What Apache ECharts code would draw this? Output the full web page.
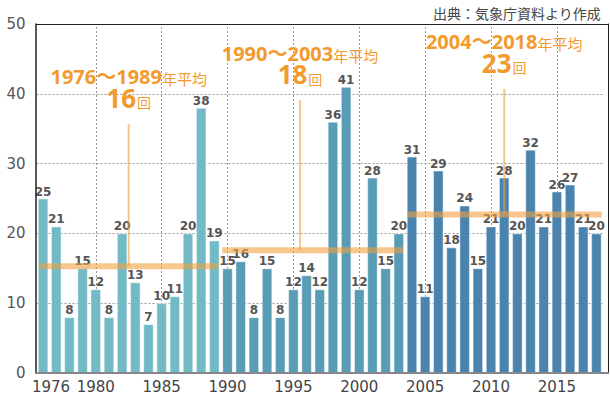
<!DOCTYPE html>
<html lang="ja">
<head>
<meta charset="UTF-8">
<title>台風の発生数</title>
<script src="https://cdn.jsdelivr.net/npm/echarts@6/dist/echarts.min.js"></script>
<style>
  html, body { margin: 0; padding: 0; background: #fff; }
  #main { width: 610px; height: 396px; }
</style>
</head>
<body>
<div id="main"></div>
<script>
// data
var years = [];
for (var y = 1976; y <= 2018; y++) years.push(String(y));
var counts = [25, 21, 8, 15, 12, 8, 20, 13, 7, 10, 11, 20, 38, 19,
              15, 16, 8, 15, 8, 12, 14, 12, 36, 41, 12, 28, 15, 20,
              31, 11, 29, 18, 24, 15, 21, 28, 20, 32, 21, 26, 27, 21, 20];
var labelYears = ['1976', '1980', '1985', '1990', '1995', '2000', '2005', '2010', '2015'];
var gridYears = ['1980', '1985', '1990', '1995', '2000', '2005', '2010', '2015'];
var yTicks = [0, 10, 20, 30, 40, 50];

// periods
var periodNames = ['1976～1989', '1990～2003', '2004～2018'];
var periodLastYear = [1989, 2003, 2018];
var periodAverage = ['16', '18', '23'];
var avgLevel = [15.3, 17.6, 22.7];      // height where the average band is drawn
var calloutTop = [35.7, 39.1, 40.7];    // top of the thin orange pointer

// layout of the annotations, in category index units
var bandSpan = [[-0.3, 13.3], [13.6, 27.3], [27.7, 42.4]];
var pointerX = [6.5, 19.5, 35];

var barColors = ['#72bac6', '#589cb6', '#4a84ae'];
var orange = '#f39a2e';
var band = 'rgba(240,160,64,0.6)';
var font = "'Noto Sans', 'Noto Sans CJK JP', sans-serif";
var axisFont = "'DejaVu Sans', sans-serif";

function groupOf(year) {
  for (var i = 0; i < periodLastYear.length; i++) {
    if (+year <= periodLastYear[i]) return i;
  }
  return periodLastYear.length - 1;
}

var barData = counts.map(function (v, i) {
  return { value: v, itemStyle: { color: barColors[groupOf(years[i])] } };
});

var series = [{
  type: 'bar',
  xAxisIndex: 0,
  yAxisIndex: 0,
  data: barData,
  barCategoryGap: '20%',
  z: 2,
  itemStyle: { borderColor: 'rgba(255,255,255,0.45)', borderWidth: 1 },
  label: {
    show: true,
    position: 'top',
    distance: 1,
    fontFamily: axisFont,
    fontSize: 12,
    fontWeight: 'bold',
    color: '#555'
  },
  markLine: {
    silent: true,
    symbol: 'none',
    z: 1,
    label: { show: false },
    lineStyle: { color: '#999', type: [2, 2], width: 1 },
    data: gridYears.map(function (y) { return { xAxis: y }; })
  }
}];

periodNames.forEach(function (name, i) {
  // average band
  series.push({
    type: 'line',
    xAxisIndex: 1,
    yAxisIndex: 0,
    symbol: 'none',
    silent: true,
    z: 4,
    lineStyle: { color: band, width: 6, cap: 'butt' },
    data: [[bandSpan[i][0], avgLevel[i]], [bandSpan[i][1], avgLevel[i]]]
  });
  // pointer with its callout text
  series.push({
    type: 'line',
    xAxisIndex: 1,
    yAxisIndex: 0,
    symbol: 'circle',
    symbolSize: 1,
    showSymbol: true,
    silent: true,
    z: 4,
    itemStyle: { color: 'transparent' },
    lineStyle: { color: band, width: 2 },
    data: [{
      value: [pointerX[i], calloutTop[i]],
      label: {
        show: true,
        position: 'top',
        distance: 12.5,
        align: 'center',
        formatter: '{a|' + name + '}{b|年平均}\n{c|' + periodAverage[i] + '}{d|回}',
        rich: {
          a: { fontFamily: font, fontSize: 20, fontWeight: 'bold', color: orange, lineHeight: 20, verticalAlign: 'bottom' },
          b: { fontFamily: font, fontSize: 15, color: orange, lineHeight: 20, verticalAlign: 'bottom' },
          c: { fontFamily: font, fontSize: 26, fontWeight: 'bold', color: orange, lineHeight: 24, verticalAlign: 'bottom' },
          d: { fontFamily: font, fontSize: 14, color: orange, lineHeight: 24, verticalAlign: 'bottom', padding: [0, 0, 1, 1] }
        }
      }
    }, [pointerX[i], avgLevel[i]]]
  });
});

var chart = echarts.init(document.getElementById('main'), null, { renderer: 'svg' });
chart.setOption({
  animation: false,
  backgroundColor: '#fff',
  title: {
    text: '出典：気象庁資料より作成',
    right: 4,
    top: 1,
    textStyle: { fontFamily: font, fontSize: 14, fontWeight: 'normal', color: '#444' }
  },
  grid: [
    { left: 36.5, right: 7, top: 24, bottom: 23 },
    { left: 36, right: 2, top: 24, bottom: 23 }
  ],
  xAxis: [{
    type: 'category',
    gridIndex: 0,
    data: years,
    axisLine: { show: false },
    axisTick: { show: false },
    axisLabel: {
      interval: function (i, v) { return labelYears.indexOf(v) >= 0; },
      margin: 6,
      fontFamily: axisFont,
      fontSize: 15,
      color: '#444',
      formatter: function (v) { return v === '1976' ? '{s|' + v + '}' : v; },
      rich: { s: { fontFamily: axisFont, fontSize: 15, color: '#444', padding: [0, 0, 0, 16] } }
    }
  }, {
    type: 'value',
    gridIndex: 0,
    min: -0.5,
    max: 42.5,
    show: false
  }, {
    // frame: bottom
    type: 'value',
    gridIndex: 1,
    min: 0,
    max: 1,
    z: 3,
    axisLine: { show: true, onZero: false, lineStyle: { color: '#888', width: 2 } },
    axisTick: { show: false },
    axisLabel: { show: false },
    splitLine: { show: false }
  }, {
    // frame: top
    type: 'value',
    gridIndex: 1,
    position: 'top',
    min: 0,
    max: 1,
    z: 3,
    axisLine: { show: true, onZero: false, lineStyle: { color: '#222', width: 1 } },
    axisTick: { show: false },
    axisLabel: { show: false },
    splitLine: { show: false }
  }],
  yAxis: [{
    type: 'value',
    gridIndex: 0,
    min: yTicks[0],
    max: yTicks[yTicks.length - 1],
    interval: 10,
    axisLine: { show: false },
    axisTick: { show: false },
    axisLabel: { margin: 11, fontFamily: axisFont, fontSize: 15, color: '#555' },
    splitLine: { lineStyle: { color: '#999', type: [2, 2], width: 1 } }
  }, {
    // frame: left
    type: 'value',
    gridIndex: 1,
    position: 'left',
    min: 0,
    max: 50,
    z: 3,
    axisLine: { show: true, onZero: false, lineStyle: { color: '#222', width: 1.5 } },
    axisTick: { show: false },
    axisLabel: { show: false },
    splitLine: { show: false }
  }, {
    // frame: right
    type: 'value',
    gridIndex: 1,
    position: 'right',
    min: 0,
    max: 50,
    z: 3,
    axisLine: { show: true, onZero: false, lineStyle: { color: '#222', width: 1 } },
    axisTick: { show: false },
    axisLabel: { show: false },
    splitLine: { show: false }
  }],
  series: series
});
</script>
</body>
</html>
